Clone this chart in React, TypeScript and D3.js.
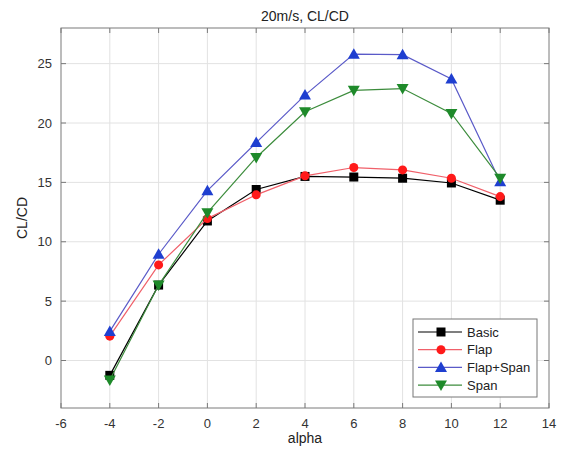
import * as d3 from "d3";
import { useEffect, useRef } from "react";

const alpha = [-4, -2, 0, 2, 4, 6, 8, 10, 12];
const basic = [-1.25, 6.35, 11.75, 14.4, 15.5, 15.45, 15.35, 14.95, 13.5];
const flap = [2.05, 8.05, 11.95, 13.95, 15.55, 16.25, 16.05, 15.35, 13.8];
const flapSpan = [2.45, 8.95, 14.3, 18.35, 22.35, 25.8, 25.75, 23.7, 15.05];
const span = [-1.65, 6.35, 12.45, 17.1, 20.95, 22.75, 22.9, 20.8, 15.35];

const xTicks = [-6, -4, -2, 0, 2, 4, 6, 8, 10, 12, 14];
const yTicks = [0, 5, 10, 15, 20, 25];

const series = [
    { name: "Basic", values: basic, line: "#000000", fill: "#000000", marker: "square" },
    { name: "Flap", values: flap, line: "#f0606a", fill: "#ff1a1a", marker: "circle" },
    { name: "Flap+Span", values: flapSpan, line: "#5a5ac8", fill: "#1f3fd0", marker: "up" },
    { name: "Span", values: span, line: "#3c8c3c", fill: "#1e8a2a", marker: "down" },
];

const markerPath = (type) => {
    if (type === "square") return "M-4.5,-4.5H4.5V4.5H-4.5Z";
    if (type === "circle") return d3.symbol(d3.symbolCircle, 64)();
    if (type === "up") return "M0,-6L6,4.5L-6,4.5Z";
    return "M0,6L6,-4.5L-6,-4.5Z";
};

const App = () => {
    const svgRef = useRef();

    useEffect(() => {
        const svg = d3.select(svgRef.current);
        svg.selectAll("*").remove();

        const width = 568;
        const height = 457;
        svg.attr("width", width).attr("height", height);

        const left = 61, right = 549, top = 28, bottom = 408;
        const x = d3.scaleLinear().domain([-6, 14]).range([left, right]);
        const y = d3.scaleLinear().domain([-4, 28]).range([bottom, top]);

        const font = "'Liberation Sans', Arial, sans-serif";
        const axisColor = "#7a7a7a";
        const textColor = "#333333";

        svg.append("rect").attr("width", width).attr("height", height).attr("fill", "#fff");

        // grille
        svg.selectAll(".gx").data(xTicks.slice(1, -1)).enter().append("line")
            .attr("x1", (d) => x(d)).attr("x2", (d) => x(d))
            .attr("y1", top).attr("y2", bottom)
            .attr("stroke", "#e2e2e2").attr("stroke-width", 1);
        svg.selectAll(".gy").data(yTicks).enter().append("line")
            .attr("x1", left).attr("x2", right)
            .attr("y1", (d) => y(d)).attr("y2", (d) => y(d))
            .attr("stroke", "#e2e2e2").attr("stroke-width", 1);

        // ticks vers l'intérieur
        xTicks.forEach((t) => {
            svg.append("line").attr("x1", x(t)).attr("x2", x(t)).attr("y1", bottom).attr("y2", bottom - 5)
                .attr("stroke", axisColor);
            svg.append("line").attr("x1", x(t)).attr("x2", x(t)).attr("y1", top).attr("y2", top + 5)
                .attr("stroke", axisColor);
        });
        yTicks.forEach((t) => {
            svg.append("line").attr("x1", left).attr("x2", left + 5).attr("y1", y(t)).attr("y2", y(t))
                .attr("stroke", axisColor);
            svg.append("line").attr("x1", right).attr("x2", right - 5).attr("y1", y(t)).attr("y2", y(t))
                .attr("stroke", axisColor);
        });

        svg.append("rect").attr("x", left).attr("y", top)
            .attr("width", right - left).attr("height", bottom - top)
            .attr("fill", "none").attr("stroke", axisColor).attr("stroke-width", 1);

        // étiquettes
        svg.selectAll(".xl").data(xTicks).enter().append("text")
            .attr("x", (d) => x(d)).attr("y", bottom + 20)
            .attr("text-anchor", "middle").attr("font-family", font).attr("font-size", 13)
            .attr("fill", textColor).text((d) => d);
        svg.selectAll(".yl").data(yTicks).enter().append("text")
            .attr("x", left - 9).attr("y", (d) => y(d) + 4.5)
            .attr("text-anchor", "end").attr("font-family", font).attr("font-size", 13)
            .attr("fill", textColor).text((d) => d);

        svg.append("text").attr("x", (left + right) / 2).attr("y", 21)
            .attr("text-anchor", "middle").attr("font-family", font).attr("font-size", 14)
            .attr("fill", "#222").text("20m/s, CL/CD");
        svg.append("text").attr("x", (left + right) / 2).attr("y", 443)
            .attr("text-anchor", "middle").attr("font-family", font).attr("font-size", 14)
            .attr("fill", "#222").text("alpha");
        svg.append("text")
            .attr("transform", `translate(27,${(top + bottom) / 2}) rotate(-90)`)
            .attr("text-anchor", "middle").attr("font-family", font).attr("font-size", 14)
            .attr("fill", "#222").text("CL/CD");

        // séries
        const line = d3.line().x((d) => x(d[0])).y((d) => y(d[1]));
        series.forEach((s) => {
            const pts = alpha.map((a, i) => [a, s.values[i]]);
            svg.append("path").datum(pts).attr("d", line)
                .attr("fill", "none").attr("stroke", s.line).attr("stroke-width", 1.2);
            svg.selectAll(null).data(pts).enter().append("path")
                .attr("transform", (d) => `translate(${x(d[0])},${y(d[1])})`)
                .attr("d", markerPath(s.marker)).attr("fill", s.fill);
        });

        // légende
        const lg = svg.append("g");
        lg.append("rect").attr("x", 413).attr("y", 319).attr("width", 124).attr("height", 78)
            .attr("fill", "#fff").attr("stroke", "#777").attr("stroke-width", 1);
        series.forEach((s, i) => {
            const ry = 332 + i * 17.7;
            lg.append("line").attr("x1", 418).attr("x2", 462).attr("y1", ry).attr("y2", ry)
                .attr("stroke", s.line).attr("stroke-width", 1.2);
            lg.append("path").attr("transform", `translate(441,${ry})`)
                .attr("d", markerPath(s.marker)).attr("fill", s.fill);
            lg.append("text").attr("x", 467).attr("y", ry + 4.5)
                .attr("font-family", font).attr("font-size", 13).attr("fill", "#222").text(s.name);
        });
    }, []);

    return <svg ref={svgRef} style={{ position: "absolute", left: 0, top: 0 }}></svg>;
};

export default App;
